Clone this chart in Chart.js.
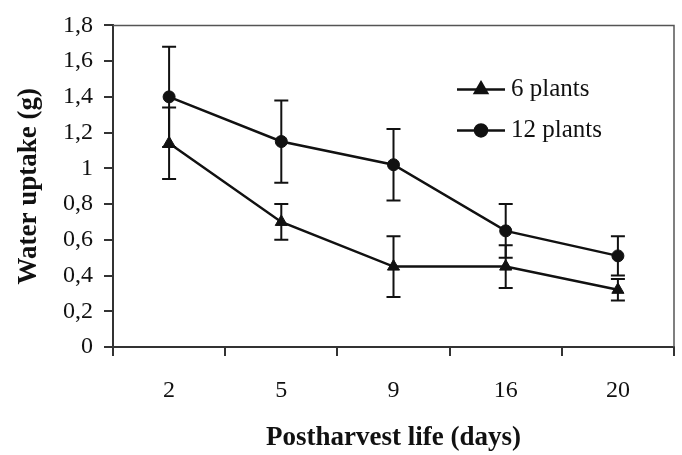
<!DOCTYPE html>
<html>
<head>
<meta charset="utf-8">
<script src="https://cdn.jsdelivr.net/npm/chart.js@4.4.1/dist/chart.umd.min.js"></script>
<style>
    html, body { margin: 0; padding: 0; background: #fff; }
    #wrap { width: 682px; height: 455px; }
</style>
</head>
<body>
<div id="wrap"><canvas id="uptakeChart" width="682" height="455"></canvas></div>
<script>
const days = ['2', '5', '9', '16', '20'];
const sixPlants = [1.14, 0.70, 0.45, 0.45, 0.32];
const sixPlantsErr = [0.20, 0.10, 0.17, 0.12, 0.06];
const twelvePlants = [1.40, 1.15, 1.02, 0.65, 0.51];
const twelvePlantsErr = [0.28, 0.23, 0.20, 0.15, 0.11];
const yTicks = [0, 0.2, 0.4, 0.6, 0.8, 1, 1.2, 1.4, 1.6, 1.8];

const serif = '"Liberation Serif", "Times New Roman", serif';
const ink = '#111';

// comma decimals like the original (1,2 / 0,4), plain "1" and "0"
const fmtTick = (v) => (Math.round(v * 10) / 10).toString().replace('.', ',');

const errorBars = {
    id: 'errorBars',
    beforeDatasetsDraw(chart) {
        const { ctx } = chart;
        const y = chart.scales.y;
        ctx.save();
        ctx.strokeStyle = ink;
        ctx.lineWidth = 2;
        chart.data.datasets.forEach((ds, di) => {
            const meta = chart.getDatasetMeta(di);
            ds.errors.forEach((e, i) => {
                const pt = meta.data[i];
                const top = y.getPixelForValue(ds.data[i] + e);
                const bot = y.getPixelForValue(ds.data[i] - e);
                ctx.beginPath();
                ctx.moveTo(pt.x, top); ctx.lineTo(pt.x, bot);
                ctx.moveTo(pt.x - 7, top); ctx.lineTo(pt.x + 7, top);
                ctx.moveTo(pt.x - 7, bot); ctx.lineTo(pt.x + 7, bot);
                ctx.stroke();
            });
        });
        ctx.restore();
    }
};

const frameAndLegend = {
    id: 'frameAndLegend',
    afterDraw(chart) {
        const { ctx, chartArea: a } = chart;
        ctx.save();
        // thin frame on top and right
        ctx.strokeStyle = '#555';
        ctx.lineWidth = 1.5;
        ctx.beginPath();
        ctx.moveTo(a.left, a.top); ctx.lineTo(a.right, a.top); ctx.lineTo(a.right, a.bottom);
        ctx.stroke();

        // legend inside the plot
        const x0 = a.left + 344, x1 = a.left + 392;
        const rows = [a.top + 64, a.top + 105];
        chart.data.datasets.forEach((ds, i) => {
            const yy = rows[i];
            ctx.strokeStyle = ink;
            ctx.fillStyle = ink;
            ctx.lineWidth = 2.5;
            ctx.beginPath(); ctx.moveTo(x0, yy); ctx.lineTo(x1, yy); ctx.stroke();
            Chart.helpers.drawPoint(ctx, { pointStyle: ds.pointStyle, radius: ds.pointRadius, borderWidth: 1 }, (x0 + x1) / 2, yy);
            ctx.font = '25px ' + serif;
            ctx.textAlign = 'left';
            ctx.textBaseline = 'middle';
            ctx.fillText(ds.label, x1 + 6, yy);
        });
        ctx.restore();
    }
};

new Chart(document.getElementById('uptakeChart'), {
    type: 'line',
    data: {
        labels: days,
        datasets: [
            {
                label: '6 plants',
                data: sixPlants,
                errors: sixPlantsErr,
                borderColor: ink,
                backgroundColor: ink,
                borderWidth: 2.5,
                pointStyle: 'triangle',
                pointRadius: 7,
                pointBorderWidth: 1,
                tension: 0
            },
            {
                label: '12 plants',
                data: twelvePlants,
                errors: twelvePlantsErr,
                borderColor: ink,
                backgroundColor: ink,
                borderWidth: 2.5,
                pointStyle: 'circle',
                pointRadius: 6,
                pointBorderWidth: 1,
                tension: 0
            }
        ]
    },
    options: {
        responsive: false,
        animation: false,
        layout: { padding: { top: 22, right: 8, left: 0, bottom: 0 } },
        plugins: { legend: { display: false }, tooltip: { enabled: false } },
        scales: {
            x: {
                offset: true,
                grid: { drawOnChartArea: false, drawTicks: true, tickLength: 9, offset: true, color: '#333', lineWidth: 2 },
                border: { display: true, color: '#333', width: 2 },
                ticks: { color: ink, font: { family: serif, size: 24 }, padding: 20, maxRotation: 0 },
                title: { display: true, text: 'Postharvest life (days)', color: ink, font: { family: serif, size: 27, weight: 'bold' }, padding: { top: 0, bottom: 1 } },
                afterFit: (s) => { s.height = 108; }
            },
            y: {
                min: 0,
                max: 1.8,
                afterBuildTicks: (s) => { s.ticks = yTicks.map(v => ({ value: v })); },
                grid: { drawOnChartArea: false, drawTicks: true, tickLength: 9, color: '#333', lineWidth: 2 },
                border: { display: true, color: '#333', width: 2 },
                ticks: { color: ink, font: { family: serif, size: 24 }, padding: 11, callback: fmtTick },
                title: { display: true, text: 'Water uptake (g)', color: ink, font: { family: serif, size: 27, weight: 'bold' }, padding: { top: 13, bottom: 0 } },
                afterFit: (s) => { s.width = 113; }
            }
        }
    },
    plugins: [errorBars, frameAndLegend]
});
</script>
</body>
</html>
